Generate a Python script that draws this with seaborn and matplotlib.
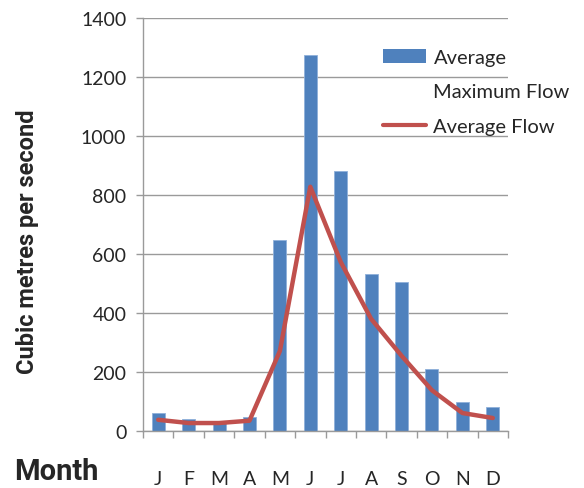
import numpy as np
import pandas as pd
import matplotlib
matplotlib.use('Agg')
import matplotlib.pyplot as plt
import seaborn as sns
from matplotlib.patches import Patch
from matplotlib.lines import Line2D

# data
months = ['Jan', 'Feb', 'Mar', 'Apr', 'May', 'Jun', 'Jul', 'Aug', 'Sep', 'Oct', 'Nov', 'Dec']
month_letters = ['J', 'F', 'M', 'A', 'M', 'J', 'J', 'A', 'S', 'O', 'N', 'D']
max_flow = [61, 41, 33, 47, 647, 1273, 880, 532, 505, 210, 98, 81]
avg_flow = [38, 27, 27, 35, 271, 828, 573, 380, 255, 138, 61, 44]
y_ticks = [0, 200, 400, 600, 800, 1000, 1200, 1400]

df = pd.DataFrame({'month': months, 'pos': np.arange(len(months)),
                   'max_flow': max_flow, 'avg_flow': avg_flow})

sns.set_style('white')
plt.rcParams['font.family'] = ['Lato', 'DejaVu Sans']

blue = '#4F81BD'
red = '#C0504D'
grey = '#9A9A9A'

fig = plt.figure(figsize=(5.84, 4.89), dpi=100)
ax = fig.add_axes([143 / 584, 1 - 432 / 489, 365 / 584, 413 / 489])

sns.barplot(data=df, x='month', y='max_flow', order=months, color=blue,
            width=0.43, saturation=1, edgecolor='#8FB0DA', linewidth=0.6, ax=ax)
sns.lineplot(data=df, x='pos', y='avg_flow', color=red, linewidth=3.2, sort=False, ax=ax)

ax.set_xlim(-0.5, 11.5)
ax.set_ylim(0, 1400)
ax.set_yticks(y_ticks)
ax.set_yticklabels([str(v) for v in y_ticks], fontsize=14)
ax.set_xticks(np.arange(12))
ax.set_xticklabels(month_letters, fontsize=14)
ax.set_xticks(np.arange(-0.5, 12, 1), minor=True)
ax.tick_params(axis='x', which='major', length=0, pad=28)
ax.tick_params(axis='x', which='minor', length=5, width=1, color=grey, direction='out', bottom=True)
ax.tick_params(axis='y', length=5, width=1, color=grey, direction='out', left=True, pad=7)

ax.yaxis.grid(True, color=grey, linewidth=1)
ax.set_axisbelow(True)
for side in ['top', 'right']:
    ax.spines[side].set_visible(False)
for side in ['left', 'bottom']:
    ax.spines[side].set_color(grey)
    ax.spines[side].set_linewidth(1)

bold = dict(family=['Roboto', 'DejaVu Sans'], fontweight='bold')
ax.set_xlabel('')
ax.set_ylabel('Cubic metres per second', fontsize=17, **bold)
ax.yaxis.set_label_coords(-0.285, 0.46)

fig.text(14 / 584, 1 - 472 / 489, 'Month', fontsize=21, va='center', ha='left', **bold)

# legend: second row carries no marker, only the wrapped part of the label
handles = [Patch(facecolor=blue, edgecolor='none'),
           Patch(facecolor='none', edgecolor='none'),
           Line2D([0], [0], color=red, linewidth=3)]
labels = ['Average', 'Maximum Flow', 'Average Flow']
leg = ax.legend(handles, labels, loc='upper left',
                bbox_to_anchor=(369 / 584, 1 - 36 / 489), bbox_transform=fig.transFigure,
                frameon=False, fontsize=14.5, handlelength=2.15, handletextpad=0.35,
                labelspacing=0.85, borderpad=0.2)

fig.savefig('out.png', dpi=100)
